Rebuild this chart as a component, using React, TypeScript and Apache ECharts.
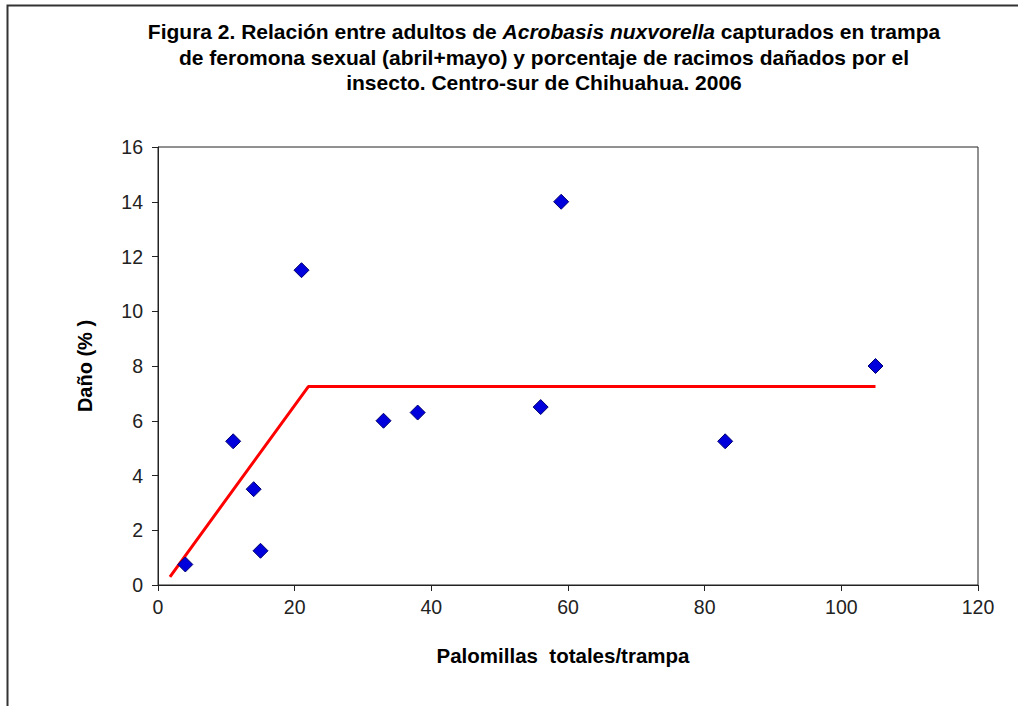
import React, { useEffect, useRef } from "react";
import * as echarts from "echarts";

const trapCounts = [4, 11, 14, 15, 21, 33, 38, 56, 59, 83, 105];
const damagePct = [0.75, 5.25, 3.5, 1.25, 11.5, 6, 6.3, 6.5, 14, 5.25, 8];
const fitX = [1.75, 22, 105];
const fitY = [0.3, 7.25, 7.25];
const xTicks = { min: 0, max: 120, interval: 20 };
const yTicks = { min: 0, max: 16, interval: 2 };

const titleLine1a = "Figura 2. Relación entre adultos de ";
const titleItalic = "Acrobasis nuxvorella";
const titleLine1b = " capturados en trampa";
const titleLine2 = "de feromona sexual (abril+mayo) y porcentaje de racimos dañados por el";
const titleLine3 = "insecto. Centro-sur de Chihuahua. 2006";
const xName = "Palomillas  totales/trampa";
const yName = "Daño (% )";

const FONT = "'Liberation Sans', Arial, sans-serif";
const TITLE_SIZE = 21;

export default function App() {
  const ref = useRef<HTMLDivElement>(null);
  useEffect(() => {
    if (!ref.current) return;
    const chart = echarts.init(ref.current, null, { renderer: "svg" });
    const scatterData = trapCounts.map((x, i) => [x, damagePct[i]]);
    const lineData = fitX.map((x, i) => [x, fitY[i]]);
    const titleText = (text: string, y: number) => ({
      type: "text",
      x: 544,
      y,
      style: {
        text,
        align: "center",
        verticalAlign: "middle",
        fontFamily: FONT,
        fontWeight: "bold",
        fontSize: TITLE_SIZE,
        fill: "#000",
      },
    });
    chart.setOption({
      animation: false,
      backgroundColor: "#fff",
      textStyle: { fontFamily: FONT },
      graphic: [
        {
          type: "rect",
          shape: { x: 7.5, y: 5.5, width: 1100, height: 800 },
          style: { fill: "none", stroke: "#333", lineWidth: 2 },
          silent: true,
        },
        {
          type: "text",
          x: 544,
          y: 31,
          style: {
            text: `{b|${titleLine1a}}{i|${titleItalic}}{b|${titleLine1b}}`,
            align: "center",
            verticalAlign: "middle",
            rich: {
              b: { fontFamily: FONT, fontWeight: "bold", fontSize: TITLE_SIZE, fill: "#000" },
              i: { fontFamily: FONT, fontWeight: "bold", fontStyle: "italic", fontSize: TITLE_SIZE, fill: "#000" },
            },
          },
        },
        titleText(titleLine2, 57),
        titleText(titleLine3, 82),
      ],
      grid: {
        left: 158,
        right: 40,
        top: 147,
        bottom: 121,
        show: true,
        borderColor: "#222",
        borderWidth: 1,
        backgroundColor: "#fff",
      },
      xAxis: {
        type: "value",
        min: xTicks.min,
        max: xTicks.max,
        interval: xTicks.interval,
        name: xName,
        nameLocation: "middle",
        nameGap: 60,
        nameTextStyle: { fontFamily: FONT, fontWeight: "bold", fontSize: 20.5, color: "#000", padding: [0, 10, 0, 0] },
        axisLine: { show: true, lineStyle: { color: "#222", width: 1 } },
        axisTick: { show: true, length: 6, lineStyle: { color: "#222" } },
        axisLabel: { margin: 12, fontFamily: FONT, fontSize: 19.5, color: "#222" },
        splitLine: { show: false },
      },
      yAxis: {
        type: "value",
        min: yTicks.min,
        max: yTicks.max,
        interval: yTicks.interval,
        name: yName,
        nameLocation: "middle",
        nameGap: 63,
        nameRotate: 90,
        nameTextStyle: { fontFamily: FONT, fontWeight: "bold", fontSize: 20, color: "#000" },
        axisLine: { show: true, lineStyle: { color: "#222", width: 1 } },
        axisTick: { show: true, length: 6, lineStyle: { color: "#222" } },
        axisLabel: { margin: 15, fontFamily: FONT, fontSize: 19.5, color: "#222" },
        splitLine: { show: false },
      },
      series: [
        {
          type: "line",
          data: lineData,
          showSymbol: false,
          symbol: "none",
          lineStyle: { color: "#ff0000", width: 3 },
          z: 2,
        },
        {
          type: "scatter",
          data: scatterData,
          symbol: "diamond",
          symbolSize: 15,
          itemStyle: { color: "#0000dd", borderColor: "#00006e", borderWidth: 1, opacity: 1 },
          z: 3,
        },
      ],
    });
    return () => chart.dispose();
  }, []);
  return (
    <div
      ref={ref}
      style={{ position: "fixed", left: 0, top: 0, width: 1018, height: 706 }}
    />
  );
}
